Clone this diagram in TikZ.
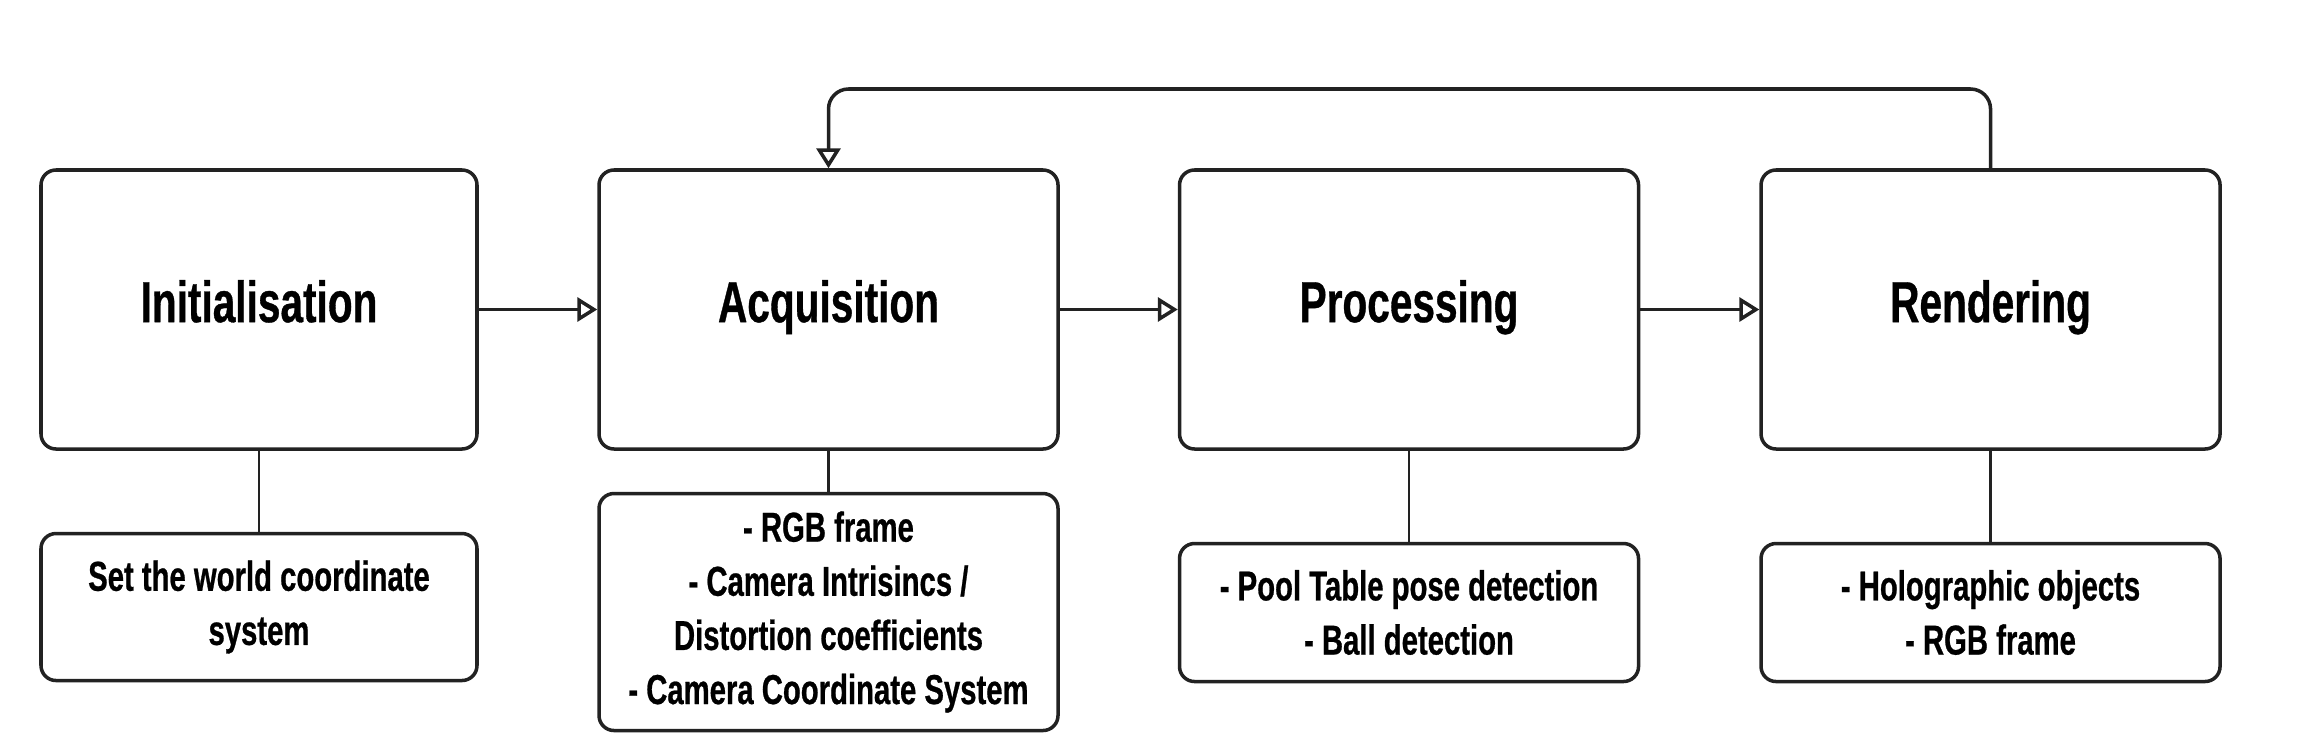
\documentclass[tikz,border=0pt]{standalone}
\usepackage{fontspec}
\setmainfont{Liberation Sans}[FakeStretch=0.7, BoldFeatures={FakeBold=0.6}]
\usetikzlibrary{positioning,arrows.meta}
\definecolor{edge}{HTML}{222222}
\tikzset{
  stagebox/.style={draw=edge, line width=1pt, rounded corners=0.15cm, minimum width=4.59cm, minimum height=2.79cm, inner sep=0pt, text height=0.72em, text depth=0pt, font=\fontsize{16.5}{20}\selectfont\bfseries},
  notebox/.style={draw=edge, line width=1pt, rounded corners=0.15cm, minimum width=4.59cm, inner sep=0pt, align=center, font=\fontsize{11.9}{15.4}\selectfont\bfseries},
  flowline/.style={draw=edge, line width=1pt, -{Triangle[open, length=0.2cm, width=0.24cm]}},
  linkline/.style={draw=edge, line width=0.8pt},
}

\begin{document}
\begin{tikzpicture}
  \useasboundingbox (0,0) rectangle (23.2,7.55);

  % stages
  \node[stagebox, minimum width=4.36cm] (init) at (2.59,4.455) {Initialisation};
  \node[stagebox, right=1.185cm of init] (acq) {Acquisition};
  \node[stagebox, right=1.18cm of acq] (proc) {Processing};
  \node[stagebox, right=1.19cm of proc] (rend) {Rendering};

  % notes under each stage
  \node[notebox, minimum width=4.36cm, minimum height=1.47cm, below=0.81cm of init] (initnote) {Set the world coordinate\\system};
  \node[notebox, minimum height=2.37cm, below=0.41cm of acq] (acqnote) {- RGB frame\\- Camera Intrisincs /\\Distortion coefficients\\- Camera Coordinate System};
  \node[notebox, minimum height=1.38cm, below=0.91cm of proc] (procnote) {- Pool Table pose detection\\- Ball detection};
  \node[notebox, minimum height=1.38cm, below=0.91cm of rend] (rendnote) {- Holographic objects\\- RGB frame};

  \draw[flowline] (init) -- (acq);
  \draw[flowline] (acq) -- (proc);
  \draw[flowline] (proc) -- (rend);

  % loop back from rendering
  \coordinate (loop) at (0,6.66);
  \draw[flowline, rounded corners=0.2cm] (rend.north) -- (rend.north |- loop) -- (acq.north |- loop) -- (acq.north);

  \draw[linkline] (init) -- (initnote);
  \draw[linkline] (acq) -- (acqnote);
  \draw[linkline] (proc) -- (procnote);
  \draw[linkline] (rend) -- (rendnote);
\end{tikzpicture}
\end{document}
